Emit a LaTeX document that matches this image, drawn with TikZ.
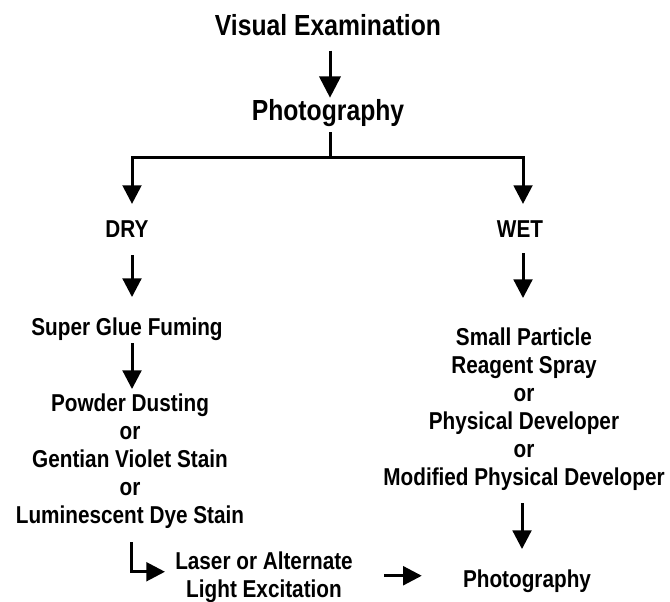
\documentclass[tikz,border=0pt]{standalone}
\usepackage{fontspec}
\setmainfont{Liberation Sans}[FakeStretch=0.85]
\usetikzlibrary{arrows.meta,calc}
\begin{document}
\begin{tikzpicture}[x=0.75pt,y=-0.75pt,
    every node/.style={inner sep=0pt,anchor=base,align=center},
    big/.style={font=\bfseries\fontsize{21.8}{26}\selectfont},
    small/.style={font=\bfseries\fontsize{18.3}{21}\selectfont},
    flow/.style={line width=2.25pt,-{Triangle[length=14pt,width=14pt]}},
    fork/.style={line width=2.25pt,{Triangle[length=14pt,width=14pt]}-{Triangle[length=14pt,width=14pt]}}]
      \useasboundingbox (0,0) rectangle (670,602);
      \draw
        (328,36) node[big] (visual){Visual Examination}
        (328,121) node[big] (photo1){Photography}
        (127,238) node[small] (dry){DRY}
        (520,238) node[small] (wet){WET}
        (127,335) node[small] (glue){Super Glue Fuming}
        (130,523) node[small] (dryalt){Powder Dusting\\or\\Gentian Violet Stain\\or\\Luminescent Dye Stain}
        (524,485) node[small] (wetalt){Small Particle\\Reagent Spray\\or\\Physical Developer\\or\\Modified Physical Developer}
        (264,597) node[small] (laser){Laser or Alternate\\Light Excitation}
        (527,587) node[small] (photo2){Photography};
      \begin{scope}
        \draw[flow,-{Triangle[length=16pt,width=16pt]}] ($(visual.south)+(2,14)$) -- ($(photo1.north)+(2,-2)$);
        \draw[line width=2.25pt] ($(photo1.south)+(2,5)$) -- ++(0,25) coordinate (split);
        \draw[fork] ($(dry.north)+(5,-17)$) |- (split) -| ($(wet.north)+(3,-17)$);
        \draw[flow] ($(dry.south)+(5,17)$) -- ($(glue.north)+(5,-20)$);
        \draw[flow] ($(glue.south)+(5,3)$) -- ($(dryalt.north)+(2,-4)$);
        \draw[flow] ($(wet.south)+(3,15)$) -- ($(wetalt.north)+(-1,-29)$);
        \draw[flow] ($(wetalt.south)+(-2,13)$) -- ($(photo2.north)+(-5,-20)$);
        \draw[flow] ($(dryalt.south)+(1,14)$) |- ($(laser.west)+(-10,-5)$);
        \draw[flow] ($(laser.east)+(31,-1)$) coordinate (lx) -- ($(lx -| photo2.west)+(-41,0)$);
      \end{scope}
    \end{tikzpicture}
\end{document}
